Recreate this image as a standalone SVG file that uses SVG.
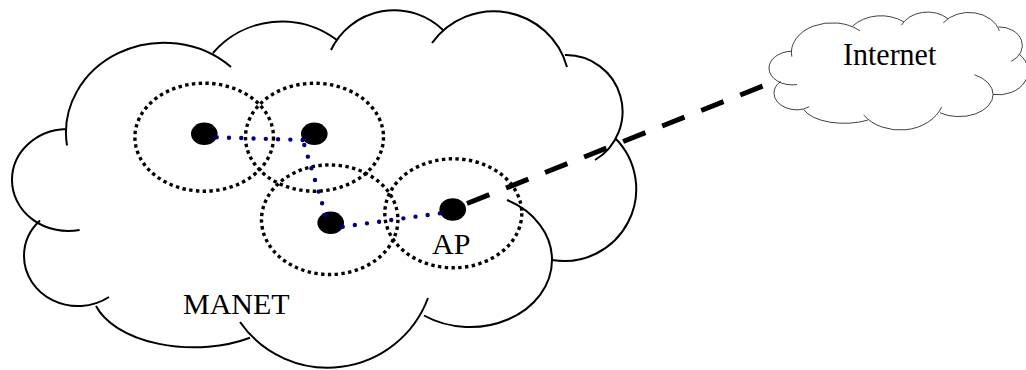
<svg xmlns="http://www.w3.org/2000/svg" xmlns:xlink="http://www.w3.org/1999/xlink" width="1026" height="370" viewBox="0 0 1026 370">
  <style>
    .cloud { fill: none; stroke: #000; stroke-width: 2; vector-effect: non-scaling-stroke; }
    .range { fill: none; stroke: #000; stroke-width: 3.4; stroke-dasharray: 3.4 3.4; }
    .node { fill: #000; }
    .link { fill: none; stroke: #000080; stroke-width: 4.4; stroke-linecap: round; }
    .uplink { fill: none; stroke: #000; stroke-width: 5; stroke-dasharray: 24 18; }
    .label { font-family: "Liberation Serif", "Times New Roman", serif; font-size: 30px; fill: #000; }
  </style>
  <defs>
    <!-- cloud outline: one open arc per lobe, each running a little past its neighbour -->
    <path id="cloud" d="M 67 145.5 A 98 90 0 0 1 231 67
      M 213 53 A 91 91 0 0 1 337 40
      M 331 50 A 70 70 0 0 1 443 30
      M 432 43 A 76 76 0 0 1 567 67
      M 565 55 A 56.5 56.5 0 0 1 595 160
      M 615 138 A 72 72 0 0 1 552 260
      M 507 200 A 82 67 0 0 1 552 260 A 82 67 0 0 1 424 315.5
      M 428 298 A 107 107 0 0 1 240 322
      M 250 337.7 A 102 58 0 0 1 96 306
      M 109 297 A 54 50 0 0 1 24 256 A 54 50 0 0 1 40 220.6
      M 79.6 229.9 A 56 51 0 0 1 12 180 A 56 51 0 0 1 66 129"/>
  </defs>

  <rect width="1026" height="370" fill="#fff"/>

  <g id="manet-cloud">
    <use xlink:href="#cloud" href="#cloud" class="cloud"/>
    <text class="label" x="183" y="314">MANET</text>
  </g>

  <g id="internet-cloud">
    <use xlink:href="#cloud" href="#cloud" class="cloud" transform="translate(769,12) scale(0.415,0.33) translate(-12,-10)"/>
    <text class="label" transform="translate(843,65) scale(1,1.08)">Internet</text>
  </g>

  <g id="node-1">
    <ellipse class="range" cx="204.2" cy="137.2" rx="69.3" ry="54"/>
    <ellipse class="node" cx="204.3" cy="133.8" rx="13.3" ry="11.2"/>
  </g>

  <g id="node-2">
    <ellipse class="range" cx="314.5" cy="137.2" rx="69" ry="54"/>
    <ellipse class="node" cx="314.3" cy="133.8" rx="13.3" ry="11.2"/>
  </g>

  <g id="node-3">
    <ellipse class="range" cx="329.7" cy="219.7" rx="68.2" ry="54.8"/>
    <ellipse class="node" cx="330.7" cy="222.8" rx="13.3" ry="11.2"/>
  </g>

  <g id="node-ap">
    <ellipse class="range" cx="453.3" cy="213.3" rx="68.5" ry="54.5"/>
    <ellipse class="node" cx="452.7" cy="209.5" rx="13.3" ry="11.2"/>
    <text class="label" x="432" y="254">AP</text>
  </g>

  <g id="connectors">
    <line class="link" x1="216.7" y1="137.3" x2="302.7" y2="140" stroke-dasharray="0 12.28"/>
    <line class="link" x1="304.3" y1="145" x2="325.7" y2="215" stroke-dasharray="0 12.18"/>
    <line class="link" x1="342.7" y1="226.7" x2="440" y2="213.3" stroke-dasharray="0 12.25"/>
    <line class="uplink" x1="467" y1="203.5" x2="763" y2="86"/>
  </g>
</svg>
